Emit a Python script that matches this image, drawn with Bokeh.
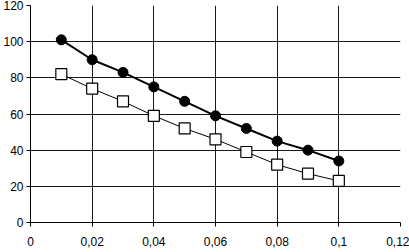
from bokeh.plotting import figure
from bokeh.models import FixedTicker, CustomJSTickFormatter, Range1d
from bokeh.embed import file_html
from bokeh.resources import INLINE

x_vals = [0.01, 0.02, 0.03, 0.04, 0.05, 0.06, 0.07, 0.08, 0.09, 0.10]
series_circles = [101, 90, 83, 75, 67, 59, 52, 45, 40, 34]
series_squares = [82, 74, 67, 59, 52, 46, 39, 32, 27, 23]
x_ticks = [0, 0.02, 0.04, 0.06, 0.08, 0.10, 0.12]
y_ticks = [0, 20, 40, 60, 80, 100, 120]

p = figure(width=409, height=252, output_backend="svg", toolbar_location=None,
           x_range=Range1d(0, 0.12), y_range=Range1d(0, 120),
           min_border_left=28, min_border_right=9, min_border_top=5, min_border_bottom=30)
p.outline_line_color = None
p.background_fill_color = "white"

for ax in (p.xaxis[0], p.yaxis[0]):
    ax.axis_line_color = "black"
    ax.major_tick_line_color = "black"
    ax.major_tick_out = 4
    ax.major_tick_in = 0
    ax.minor_tick_line_color = None
    ax.major_label_text_font = "Liberation Sans"
    ax.major_label_text_font_size = "12px"
    ax.major_label_text_color = "black"
    ax.formatter = CustomJSTickFormatter(code="return tick.toString().replace('.', ',');")

p.xaxis[0].ticker = FixedTicker(ticks=x_ticks)
p.yaxis[0].ticker = FixedTicker(ticks=y_ticks)
p.xaxis[0].major_label_standoff = 10
p.yaxis[0].major_label_standoff = 3

p.xgrid.ticker = FixedTicker(ticks=x_ticks)
p.ygrid.ticker = FixedTicker(ticks=y_ticks)
for g in (p.xgrid[0], p.ygrid[0]):
    g.grid_line_color = "black"
    g.grid_line_width = 1
    g.grid_line_alpha = 0.9

p.line(x_vals, series_squares, line_color="black", line_width=1)
p.scatter(x_vals, series_squares, marker="square", size=11, fill_color="white",
          line_color="black", line_width=1.2)
p.line(x_vals, series_circles, line_color="black", line_width=2)
p.scatter(x_vals, series_circles, marker="circle", size=10, fill_color="black",
          line_color="black")

open("out.html", "w").write(file_html(p, INLINE))
